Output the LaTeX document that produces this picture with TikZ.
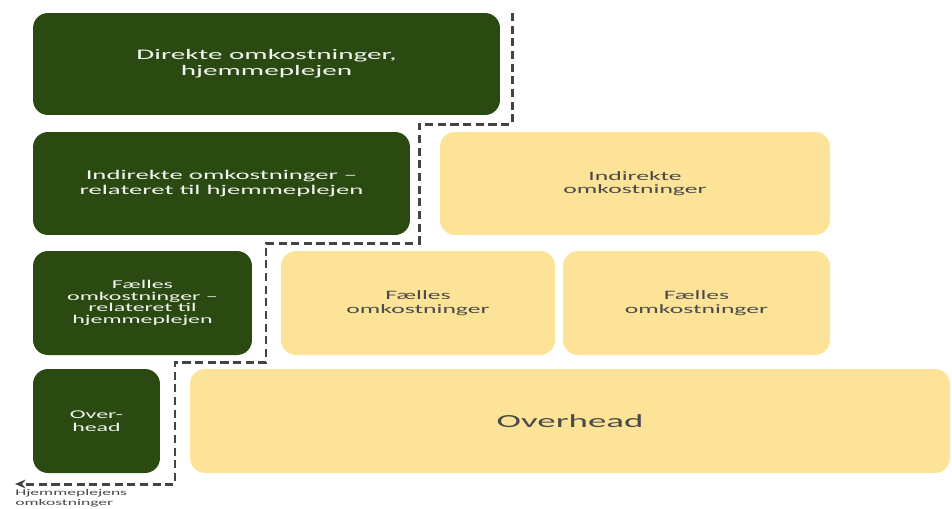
\documentclass[tikz,border=0pt]{standalone}
\usepackage{fontspec}
\setmainfont{Carlito}[FakeStretch=2.0]
\usetikzlibrary{arrows.meta}
\definecolor{hjgreen}{HTML}{2A4A12}
\definecolor{ohyellow}{HTML}{FDE398}
\definecolor{ohtext}{HTML}{4A4A4A}
\definecolor{pathgray}{HTML}{444444}
\tikzset{
  greenbox/.style={fill=hjgreen, rounded corners=0.3cm, text=white!94!hjgreen,
    align=center, inner sep=0pt, font=\fontsize{7.6}{8.1}\selectfont},
  yellowbox/.style={fill=ohyellow, rounded corners=0.3cm, text=ohtext,
    align=center, inner sep=0pt, font=\fontsize{7.3}{7.8}\selectfont},
  costpath/.style={draw=pathgray, line width=1.7pt,
    dash pattern=on 4.6pt off 2.6pt, -{Stealth[length=6pt, width=5pt]}}
}
\begin{document}
\begin{tikzpicture}[x=0.02cm, y=-0.02cm]
      \useasboundingbox (0,0) rectangle (952,508);
      %
      % the home care part
      \node[greenbox, minimum width=9.34cm, minimum height=2.04cm, font=\fontsize{8.3}{9.1}\selectfont] (direkte) at (266.5,64)
        {Direkte omkostninger,\\hjemmeplejen};
      \node[greenbox, minimum width=7.54cm, minimum height=2.06cm] (indrel) at (221.5,183.5)
        {Indirekte omkostninger --\\relateret til hjemmeplejen};
      \node[greenbox, minimum width=4.38cm, minimum height=2.08cm, font=\fontsize{6.8}{6.6}\selectfont] (faelrel) at (142.5,303)
        {Fælles\\omkostninger --\\relateret til\\hjemmeplejen};
      \node[greenbox, minimum width=2.54cm, minimum height=2.08cm, font=\fontsize{6.8}{7.2}\selectfont] (overrel) at (96.5,421)
        {Over-\\head};
      %
      % the rest
      \node[yellowbox, minimum width=7.8cm, minimum height=2.06cm] (indirekte) at (635,183.5)
        {Indirekte\\omkostninger};
      \node[yellowbox, minimum width=5.48cm, minimum height=2.08cm] (faelA) at (418,303)
        {Fælles\\omkostninger};
      \node[yellowbox, minimum width=5.34cm, minimum height=2.08cm] (faelB) at (696.5,303)
        {Fælles\\omkostninger};
      \node[yellowbox, minimum width=15.2cm, minimum height=2.08cm, font=\fontsize{10.5}{12}\selectfont] (overhead) at (570,421)
        {Overhead};
      %
      % the border line
      \coordinate (start) at (512,13);
      \coordinate (tip) at (15,484);
      \draw[costpath] (start) -- (512,124) -- (419,124) -- (419,243) -- (266,243)
        -- (266,362) -- (175,362) -- (175,484) -- (tip);
      \node[anchor=north west, inner sep=0pt, text=ohtext, align=left,
        font=\fontsize{5}{5.6}\selectfont] (hjlabel) at (15,489)
        {Hjemmeplejens\\omkostninger};
      %
    \end{tikzpicture}
\end{document}
